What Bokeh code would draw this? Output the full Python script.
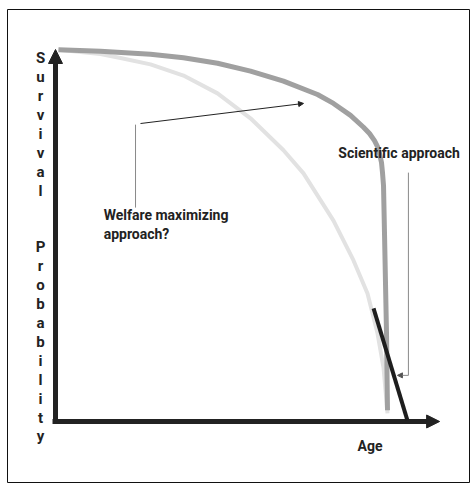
from bokeh.plotting import figure
from bokeh.models import Range1d, Arrow, NormalHead
from bokeh.embed import file_html
from bokeh.resources import INLINE
from bokeh.core.properties import value

# ---- data (age in schematic units, survival probability 0..1) ----
scientific_age = [0.90, 13.55, 28.61, 38.55, 48.80, 58.73, 68.67, 78.92, 83.73, 88.86,
                  92.77, 94.58, 96.08, 96.99, 97.59, 98.19, 98.49, 98.80, 99.10, 99.70, 100.0]
scientific_surv = [0.999, 0.995, 0.987, 0.978, 0.963, 0.942, 0.915, 0.879, 0.855, 0.823,
                   0.791, 0.774, 0.755, 0.739, 0.720, 0.696, 0.669, 0.634, 0.505, 0.237, 0.030]

welfare_age = [0.90, 13.55, 19.58, 28.61, 38.55, 48.80, 58.73, 68.67, 74.70, 83.73,
               89.76, 93.98, 96.99, 98.80, 100.0]
welfare_surv = [0.999, 0.988, 0.977, 0.960, 0.930, 0.882, 0.815, 0.729, 0.667, 0.540,
                0.433, 0.344, 0.237, 0.145, 0.022]

tangent_age = [95.8, 106.0]
tangent_surv = [0.304, 0.003]

axis_label = "Survival" + "  " + "Probability"
label_texts = ["Welfare maximizing", "approach?", "Scientific approach", "Age"]
label_age = [14.5, 14.5, 85.2, 91.0]
label_surv = [0.554, 0.503, 0.723, -0.067]

# annotation leaders
welfare_leader_age = [24.1, 24.1]
welfare_leader_surv = [0.575, 0.798]
welfare_arrow = dict(x0=25.6, y0=0.801, x1=74.7, y1=0.855)
sci_leader_age = [106.3, 106.3]
sci_leader_surv = [0.669, 0.124]
sci_arrow = dict(x0=106.3, y0=0.124, x1=103.0, y1=0.124)

x_axis_end = 115.7
y_axis_end = 1.0

p = figure(width=470, height=483, output_backend="svg", toolbar_location=None,
           x_range=Range1d(-14.46, 125.0), y_range=Range1d(-0.1667, 1.1075),
           x_axis_type=None, y_axis_type=None,
           min_border_left=7, min_border_top=9, min_border_right=0, min_border_bottom=0,
           background_fill_color="white", border_fill_color="white",
           outline_line_color="#111111", outline_line_width=1)
p.grid.visible = False

AX = "#222222"
# axes
p.line([0, 0], [-0.007, y_axis_end - 0.03], line_color=AX, line_width=5)
p.line([-0.9, x_axis_end - 3.0], [0, 0], line_color=AX, line_width=5)
p.add_layout(Arrow(end=NormalHead(size=14, fill_color=AX, line_color=AX, line_width=1),
                   x_start=0, y_start=y_axis_end - 0.05, x_end=0, y_end=y_axis_end,
                   line_alpha=0))
p.add_layout(Arrow(end=NormalHead(size=13, fill_color=AX, line_color=AX, line_width=1),
                   x_start=x_axis_end - 5, y_start=0, x_end=x_axis_end, y_end=0,
                   line_alpha=0))

# curves
p.line(welfare_age, welfare_surv, line_color="#e2e2e2", line_width=4, line_join="round")
p.line(scientific_age, scientific_surv, line_color="#a0a0a0", line_width=5, line_join="round")
p.line(tangent_age, tangent_surv, line_color="#1e1e1e", line_width=4)

# leaders
p.line(welfare_leader_age, welfare_leader_surv, line_color="#8a8a8a", line_width=1)
p.add_layout(Arrow(end=NormalHead(size=5, fill_color="#222222", line_color="#222222"),
                   x_start=welfare_arrow["x0"], y_start=welfare_arrow["y0"],
                   x_end=welfare_arrow["x1"], y_end=welfare_arrow["y1"],
                   line_color="#222222", line_width=1))
p.line(sci_leader_age, sci_leader_surv, line_color="#8a8a8a", line_width=1)
p.add_layout(Arrow(end=NormalHead(size=5, fill_color="#555555", line_color="#555555"),
                   x_start=sci_arrow["x0"], y_start=sci_arrow["y0"],
                   x_end=sci_arrow["x1"], y_end=sci_arrow["y1"],
                   line_color="#8a8a8a", line_width=1))

# vertical axis label, one letter per row
step = 18.9 / 372.0
letters = [c for c in axis_label]
letter_y = [0.976 - i * step for i in range(len(letters))]
letter_x = [-4.5] * len(letters)
p.text(letter_x, letter_y, text=letters, text_font=value("Roboto"), text_font_style="bold",
       text_font_size="15px", text_color="#222222", text_align="center", text_baseline="middle")

p.text(label_age, label_surv, text=label_texts, text_font=value("Roboto"), text_font_style="bold",
       text_font_size="14px", text_color="#222222", text_align="left", text_baseline="middle")

open("out.html", "w").write(file_html(p, INLINE))
